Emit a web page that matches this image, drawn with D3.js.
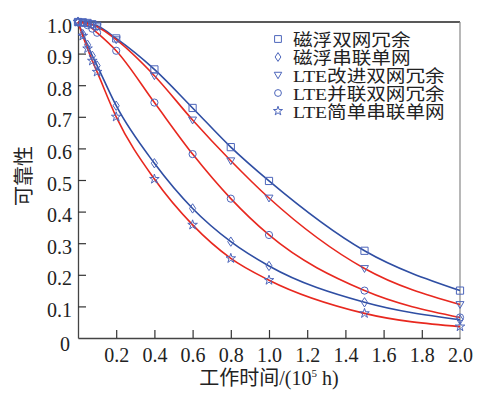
<!DOCTYPE html>
<html>
<head>
<meta charset="utf-8">
<script src="https://cdn.jsdelivr.net/npm/d3@7"></script>
<style>
  body { margin: 0; background: #fff; }
  text { font-family: "Liberation Serif", "Noto Sans CJK SC", serif; fill: #222; }
</style>
</head>
<body>
<div id="chart"></div>
<script>
// time points (10^5 h)
var times = [0, 0.025, 0.05, 0.075, 0.1, 0.2, 0.4, 0.6, 0.8, 1.0, 1.5, 2.0];

// reliability values
var maglevDual   = [1.0, 0.999, 0.997, 0.993, 0.988, 0.948, 0.850, 0.728, 0.604, 0.497, 0.276, 0.150];
var maglevSerial = [1.0, 0.962, 0.928, 0.893, 0.862, 0.735, 0.553, 0.410, 0.305, 0.228, 0.113, 0.058];
var lteImproved  = [1.0, 0.999, 0.996, 0.991, 0.985, 0.944, 0.830, 0.690, 0.561, 0.443, 0.220, 0.106];
var lteParallel  = [1.0, 0.997, 0.990, 0.979, 0.966, 0.909, 0.745, 0.582, 0.441, 0.326, 0.150, 0.065];
var lteSimple    = [1.0, 0.956, 0.916, 0.877, 0.842, 0.700, 0.503, 0.358, 0.252, 0.183, 0.078, 0.036];

var seriesNames = ["磁浮双网冗余", "磁浮串联单网", "LTE改进双网冗余", "LTE并联双网冗余", "LTE简单串联单网"];
var xTicks = [0.2, 0.4, 0.6, 0.8, 1.0, 1.2, 1.4, 1.6, 1.8, 2.0];
var yTicks = [0, 0.1, 0.2, 0.3, 0.4, 0.5, 0.6, 0.7, 0.8, 0.9, 1.0];

var blue = "#2f4ea3", red = "#e8281f", markColor = "#4d66bb";

var series = [
    {name: seriesNames[0], values: maglevDual,   color: blue, marker: "square"},
    {name: seriesNames[1], values: maglevSerial, color: blue, marker: "diamond"},
    {name: seriesNames[2], values: lteImproved,  color: red,  marker: "triangle"},
    {name: seriesNames[3], values: lteParallel,  color: red,  marker: "circle"},
    {name: seriesNames[4], values: lteSimple,    color: red,  marker: "star"}
];

var margin = {left: 78, right: 25, top: 22, bottom: 60};
var width = 485 - margin.left - margin.right,
    height = 398 - margin.top - margin.bottom;

var svg = d3.select("#chart")
    .append("svg")
        .attr("width", 485)
        .attr("height", 398);

var chartGroup = svg.append("g")
    .attr("transform", `translate(${margin.left}, ${margin.top})`);

var xScale = d3.scaleLinear().domain([0, 2.0]).range([0, width]);
var yScale = d3.scaleLinear().domain([0, 1.0]).range([height, 0]);

// frame: top black, right grey
chartGroup.append("line")
    .attr("x1", 0).attr("x2", width).attr("y1", 0).attr("y2", 0)
    .attr("stroke", "#222").attr("stroke-width", 1.5);
chartGroup.append("line")
    .attr("x1", width).attr("x2", width).attr("y1", 0).attr("y2", height)
    .attr("stroke", "#888").attr("stroke-width", 1.2);

// x axis, ticks inside
var xAxis = chartGroup.append("g")
    .attr("transform", `translate(0, ${height})`)
    .call(d3.axisBottom(xScale).tickValues(xTicks).tickSizeInner(-8).tickSizeOuter(0)
        .tickPadding(9).tickFormat(d3.format(".1f")));

// y axis, ticks inside
var yAxis = chartGroup.append("g")
    .call(d3.axisLeft(yScale).tickValues(yTicks).tickSizeInner(-8).tickSizeOuter(0)
        .tickPadding(6).tickFormat(d => d === 0 ? "0" : d3.format(".1f")(d)));

[xAxis, yAxis].forEach(function(ax) {
    ax.select(".domain").attr("stroke", "#444").attr("stroke-width", 1.3);
    ax.selectAll(".tick line").attr("stroke", "#333").attr("stroke-width", 1.2);
    ax.selectAll("text").attr("font-size", "20px").attr("fill", "#222")
        .style("font-family", "'Liberation Serif', serif");
});
xAxis.selectAll(".tick text").attr("dy", "0.75em");
yAxis.selectAll(".tick text").attr("dy", "0.5em");
// no tick marks at the frame edges
xAxis.selectAll(".tick").filter(d => d === 2.0).select("line").remove();
yAxis.selectAll(".tick").filter(d => d === 0 || d === 1.0).select("line").remove();
yAxis.selectAll(".tick").filter(d => d === 0).select("text").attr("x", -8).attr("dy", "0.6em");

// curves
var line = d3.line()
    .x(d => xScale(d[0]))
    .y(d => yScale(d[1]))
    .curve(d3.curveMonotoneX);

// marker path generator
function markerPath(type, s) {
    if (type === "square") return `M${-s},${-s}H${s}V${s}H${-s}Z`;
    if (type === "diamond") return `M0,${-s * 1.3}L${s * 0.85},0L0,${s * 1.3}L${-s * 0.85},0Z`;
    if (type === "triangle") return `M${-s * 1.1},${-s * 0.8}H${s * 1.1}L0,${s * 1.1}Z`;
    if (type === "circle") return d3.symbol(d3.symbolCircle, Math.PI * s * s)();
    return d3.symbol(d3.symbolStar, s * s * 2.2)();
}

series.forEach(function(sr) {
    var pts = times.map((t, i) => [t, sr.values[i]]);
    chartGroup.append("path")
        .datum(pts)
        .attr("fill", "none")
        .attr("stroke", sr.color)
        .attr("stroke-width", 1.6)
        .attr("d", line);
});

series.forEach(function(sr) {
    var pts = times.map((t, i) => [t, sr.values[i]]);
    chartGroup.selectAll(null)
        .data(pts)
        .enter()
        .append("path")
        .attr("transform", d => `translate(${xScale(d[0])},${yScale(d[1])})`)
        .attr("d", markerPath(sr.marker, 3.6))
        .attr("fill", "none")
        .attr("stroke", markColor)
        .attr("stroke-width", 1);
});

// legend
var legend = svg.append("g").attr("transform", "translate(278, 39)");
series.forEach(function(sr, i) {
    var row = legend.append("g").attr("transform", `translate(0, ${i * 18})`);
    row.append("path")
        .attr("d", markerPath(sr.marker, 3.4))
        .attr("fill", "none")
        .attr("stroke", markColor)
        .attr("stroke-width", 1);
    row.append("text")
        .attr("transform", "translate(15, 6.5) scale(1.12, 1)")
        .attr("font-size", "17.5px")
        .text(sr.name);
});

// axis labels
svg.append("text")
    .attr("x", margin.left + width / 2)
    .attr("y", 385)
    .attr("text-anchor", "middle")
    .attr("font-size", "20px")
    .html('工作时间/(10<tspan font-size="11px" dy="-8">5</tspan><tspan dy="8"> h)</tspan>');

svg.append("text")
    .attr("transform", "translate(31, 176) rotate(-90)")
    .attr("text-anchor", "middle")
    .attr("font-size", "20px")
    .text("可靠性");
</script>
</body>
</html>
